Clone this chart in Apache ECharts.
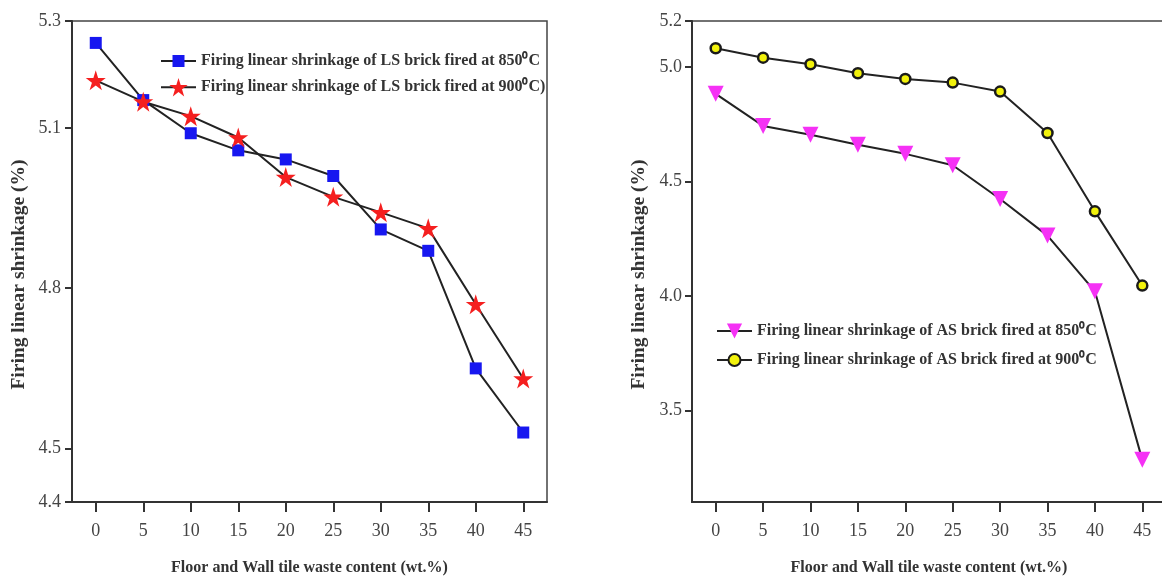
<!DOCTYPE html>
<html>
<head>
<meta charset="utf-8">
<script src="https://cdn.jsdelivr.net/npm/echarts@6/dist/echarts.min.js"></script>
<style>
html,body{margin:0;padding:0;background:#fff;}
#chart{width:1162px;height:577px;}
</style>
</head>
<body>
<div id="chart"></div>
<script>
// ---- data ----
const categories = ['0', '5', '10', '15', '20', '25', '30', '35', '40', '45'];
const lsBrick850 = [5.259, 5.152, 5.090, 5.058, 5.041, 5.010, 4.910, 4.870, 4.650, 4.530];
const lsBrick900 = [5.189, 5.149, 5.122, 5.082, 5.008, 4.971, 4.942, 4.912, 4.770, 4.631];
const asBrick850 = [4.882, 4.742, 4.703, 4.660, 4.620, 4.570, 4.423, 4.263, 4.020, 3.284];
const asBrick900 = [5.081, 5.040, 5.011, 4.972, 4.947, 4.931, 4.892, 4.711, 4.369, 4.045];
const lsYTicks = [4.4, 4.5, 4.8, 5.1, 5.3];
const asYTicks = [3.5, 4.0, 4.5, 5.0, 5.2];
const names = {
  ls850: 'Firing linear shrinkage of LS brick fired at 850\u2070C',
  ls900: 'Firing linear shrinkage of LS brick fired at 900\u2070C)',
  as850: 'Firing linear shrinkage of AS brick fired at 850\u2070C',
  as900: 'Firing linear shrinkage of AS brick fired at 900\u2070C'
};
const xTitle = 'Floor and Wall tile waste content (wt.%)';
const yTitle = 'Firing linear shrinkage (%)';

// ---- styling ----
const FONT = "'Liberation Serif', 'Times New Roman', serif";
const AX = '#333';
const STAR = 'path://M50,0 L61.2,34.5 L97.6,34.5 L68.2,55.9 L79.4,90.5 L50,69.1 L20.6,90.5 L31.8,55.9 L2.4,34.5 L38.8,34.5 Z';

function xAxisFor(i) {
  return {
    type: 'category', gridIndex: i, data: categories, boundaryGap: true,
    axisLine: {show: true, lineStyle: {color: AX, width: 2}},
    axisTick: {show: true, alignWithLabel: true, length: 10, lineStyle: {color: AX, width: 2}},
    axisLabel: {fontSize: 18, margin: 20, color: '#444', fontFamily: FONT},
    splitLine: {show: false},
    name: xTitle, nameLocation: 'middle', nameGap: 58,
    nameTextStyle: {fontSize: 16, fontWeight: 'bold', color: '#333', fontFamily: FONT}
  };
}
function yAxisFor(i, min, max, ticks, margin) {
  return {
    type: 'value', gridIndex: i, min: min, max: max,
    axisLine: {show: true, lineStyle: {color: AX, width: 2}},
    axisTick: {show: true, length: 7, customValues: ticks, lineStyle: {color: AX, width: 2}},
    axisLabel: {customValues: ticks, fontSize: 18, margin: margin, color: '#444', fontFamily: FONT,
      formatter: v => Number(v).toFixed(1)},
    splitLine: {show: false},
    name: yTitle, nameLocation: 'middle', nameGap: 43, nameRotate: 90,
    nameTextStyle: {fontSize: 19.5, fontWeight: 'bold', color: '#333', fontFamily: FONT, padding: [0, 26, 0, 0]}
  };
}
function legendFor(name, left, top, itemHeight) {
  return {
    data: [name], orient: 'vertical', left: left, top: top, padding: 0,
    itemWidth: 35, itemHeight: itemHeight,
    textStyle: {fontSize: 16, fontWeight: 'bold', color: '#333', fontFamily: FONT}
  };
}
const lineStyle = {color: '#222', width: 2};

const chart = echarts.init(document.getElementById('chart'), null, {renderer: 'canvas'});
chart.setOption({
  animation: false,
  backgroundColor: '#fff',
  grid: [
    {left: 72, top: 21, width: 475, height: 481, show: true, borderColor: '#444', borderWidth: 1.5,
      containLabel: false, outerBoundsMode: 'none'},
    {left: 692, top: 21, width: 474, height: 481, show: true, borderColor: '#444', borderWidth: 1.5,
      containLabel: false, outerBoundsMode: 'none'}
  ],
  xAxis: [xAxisFor(0), xAxisFor(1)],
  yAxis: [yAxisFor(0, 4.4, 5.3, lsYTicks, 11), yAxisFor(1, 3.1, 5.2, asYTicks, 10)],
  legend: [
    legendFor(names.ls850, 160, 53, 15),
    legendFor(names.ls900, 160, 78, 23),
    legendFor(names.as850, 716, 323, 19),
    legendFor(names.as900, 716, 352, 15)
  ],
  series: [
    {
      name: names.ls850, type: 'line', xAxisIndex: 0, yAxisIndex: 0, data: lsBrick850,
      symbol: 'rect', symbolSize: 12, itemStyle: {color: '#1717f0'}, lineStyle: lineStyle
    },
    {
      name: names.ls900, type: 'line', xAxisIndex: 0, yAxisIndex: 0, data: lsBrick900,
      symbol: STAR, symbolSize: 20, itemStyle: {color: '#f51f1f'}, lineStyle: lineStyle
    },
    {
      name: names.as850, type: 'line', xAxisIndex: 1, yAxisIndex: 1, data: asBrick850,
      symbol: 'triangle', symbolRotate: 180, symbolSize: 16, itemStyle: {color: '#f531f5'}, lineStyle: lineStyle
    },
    {
      name: names.as900, type: 'line', xAxisIndex: 1, yAxisIndex: 1, data: asBrick900,
      symbol: 'circle', symbolSize: 10, itemStyle: {color: '#f2f20c', borderColor: '#1a1a1a', borderWidth: 2.5},
      lineStyle: lineStyle
    }
  ]
});
</script>
</body>
</html>
